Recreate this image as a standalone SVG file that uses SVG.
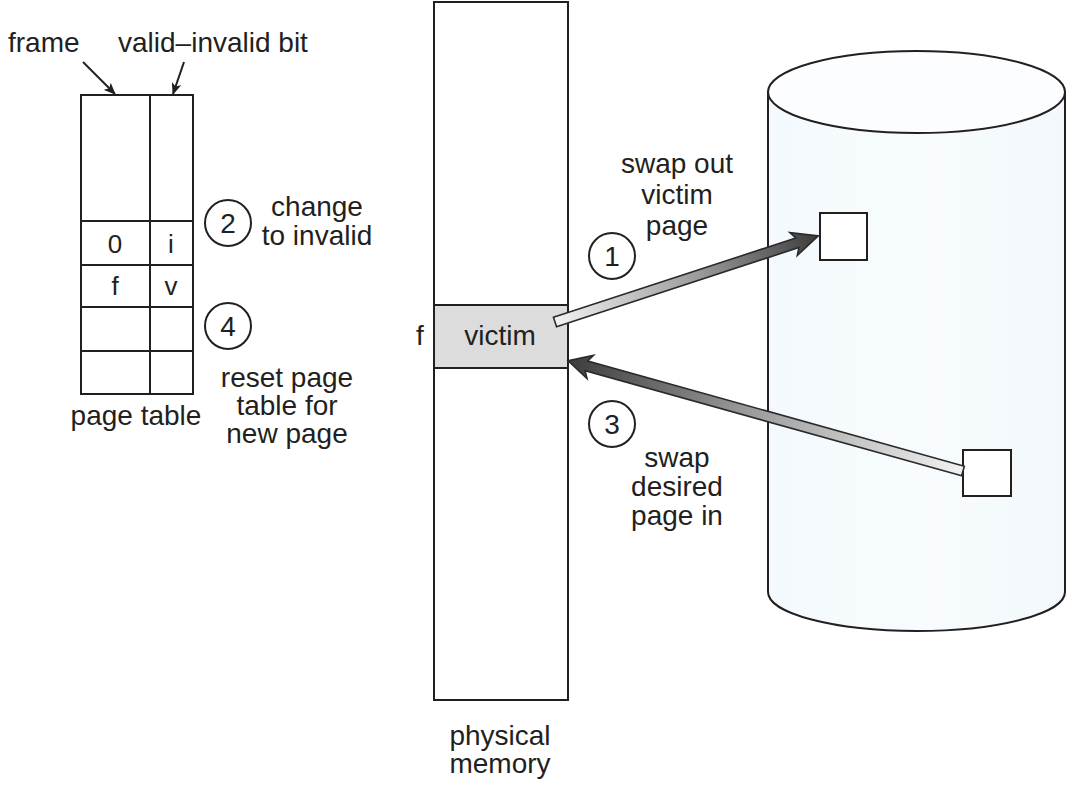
<svg xmlns="http://www.w3.org/2000/svg" width="1072" height="786" viewBox="0 0 1072 786">
<style>
  text { font-family: "Liberation Sans", Arial, sans-serif; font-size: 28px; fill: #231f20; }
  .c { text-anchor: middle; }
  .ln { fill: none; stroke: #231f20; stroke-width: 2; }
  .cell { fill: #ffffff; stroke: #231f20; stroke-width: 2; }
  .step { fill: #ffffff; stroke: #231f20; stroke-width: 2; }
  .arrow { stroke: #2a2a2a; stroke-width: 1.6; stroke-linejoin: miter; }
</style>
<defs>
  <marker id="ah" viewBox="0 0 12 10" refX="11" refY="5" markerWidth="12" markerHeight="10" markerUnits="userSpaceOnUse" orient="auto">
    <path d="M0,0 L12,5 L0,10 L3,5 Z" fill="#231f20"/>
  </marker>
  <linearGradient id="gArrow" x1="0" y1="0" x2="1" y2="0">
    <stop offset="0" stop-color="#f2f2f2"/>
    <stop offset="0.55" stop-color="#9a9a9a"/>
    <stop offset="1" stop-color="#3c3c3c"/>
  </linearGradient>
  <linearGradient id="gCyl" x1="0" y1="0" x2="1" y2="0">
    <stop offset="0" stop-color="#f3f9fd"/>
    <stop offset="0.5" stop-color="#f8fcfe"/>
    <stop offset="1" stop-color="#f2f8fc"/>
  </linearGradient>
</defs>

<!-- page table -->
<g id="page-table">
  <rect class="cell" x="81" y="95" width="112" height="299"/>
  <line class="ln" x1="150" y1="95" x2="150" y2="394"/>
  <line class="ln" x1="81" y1="221" x2="193" y2="221"/>
  <line class="ln" x1="81" y1="265" x2="193" y2="265"/>
  <line class="ln" x1="81" y1="307" x2="193" y2="307"/>
  <line class="ln" x1="81" y1="351" x2="193" y2="351"/>
  <text class="c" x="115" y="253" style="font-size:26px">0</text>
  <text class="c" x="171" y="253" style="font-size:26px">i</text>
  <text class="c" x="115" y="295" style="font-size:26px">f</text>
  <text class="c" x="171" y="295" style="font-size:26px">v</text>
  <text class="c" x="136" y="425">page table</text>
</g>

<g id="label-frame">
  <text x="8" y="52">frame</text>
</g>
<g id="label-valid">
  <text x="118" y="52">valid–invalid bit</text>
</g>

<!-- step labels -->
<g id="step2">
  <circle class="step" cx="228" cy="223" r="23"/>
  <text class="c" x="228" y="233">2</text>
  <text class="c" x="317" y="216">change</text>
  <text class="c" x="317" y="245">to invalid</text>
</g>
<g id="step4">
  <circle class="step" cx="228" cy="326" r="23"/>
  <text class="c" x="228" y="336">4</text>
  <text class="c" x="287" y="387">reset page</text>
  <text class="c" x="287" y="415">table for</text>
  <text class="c" x="287" y="443">new page</text>
</g>

<!-- physical memory -->
<g id="physical-memory">
  <rect class="cell" x="434" y="2" width="134" height="698"/>
  <text class="c" x="500" y="745">physical</text>
  <text class="c" x="500" y="773">memory</text>
</g>
<g id="victim">
  <rect x="434" y="305" width="134" height="63" fill="#dcdcdc" stroke="#231f20" stroke-width="2"/>
  <text class="c" x="500" y="345">victim</text>
  <text x="416" y="345">f</text>
</g>

<!-- disk -->
<g id="disk">
  <path d="M768,92 L768,592 A148.5,39 0 0 0 1065,592 L1065,92 Z" fill="url(#gCyl)" stroke="#231f20" stroke-width="2"/>
  <ellipse cx="916.5" cy="92" rx="148.5" ry="41" fill="#fbfdff" stroke="#231f20" stroke-width="2"/>
</g>
<g id="disk-page-out">
  <rect class="cell" x="820" y="213" width="47" height="47"/>
</g>
<g id="disk-page-in">
  <rect class="cell" x="963" y="450" width="48" height="46"/>
</g>

<g id="step1">
  <circle class="step" cx="612" cy="256" r="23"/>
  <text class="c" x="612" y="266">1</text>
  <text class="c" x="677" y="173">swap out</text>
  <text class="c" x="677" y="204">victim</text>
  <text class="c" x="677" y="235">page</text>
</g>
<g id="step3">
  <circle class="step" cx="612" cy="424" r="23"/>
  <text class="c" x="612" y="434">3</text>
  <text class="c" x="677" y="467">swap</text>
  <text class="c" x="677" y="496">desired</text>
  <text class="c" x="677" y="525">page in</text>
</g>

<!-- connectors -->
<g id="connectors">
  <line class="ln" x1="83" y1="62" x2="115" y2="94" marker-end="url(#ah)"/>
  <line class="ln" x1="184" y1="62" x2="173" y2="94" marker-end="url(#ah)"/>
  <!-- swap out: victim -> disk box -->
  <g transform="translate(555,322) rotate(-18.1)">
    <path class="arrow" fill="url(#gArrow)" d="M0,-5 L255,-5 L251,-12 L277,0 L251,12 L255,5 L0,5 Z"/>
  </g>
  <!-- swap in: disk box -> victim -->
  <g transform="translate(963,471) rotate(195.6)">
    <path class="arrow" fill="url(#gArrow)" d="M0,-5 L391,-5 L387,-12 L410,0 L387,12 L391,5 L0,5 Z"/>
  </g>
</g>
</svg>
